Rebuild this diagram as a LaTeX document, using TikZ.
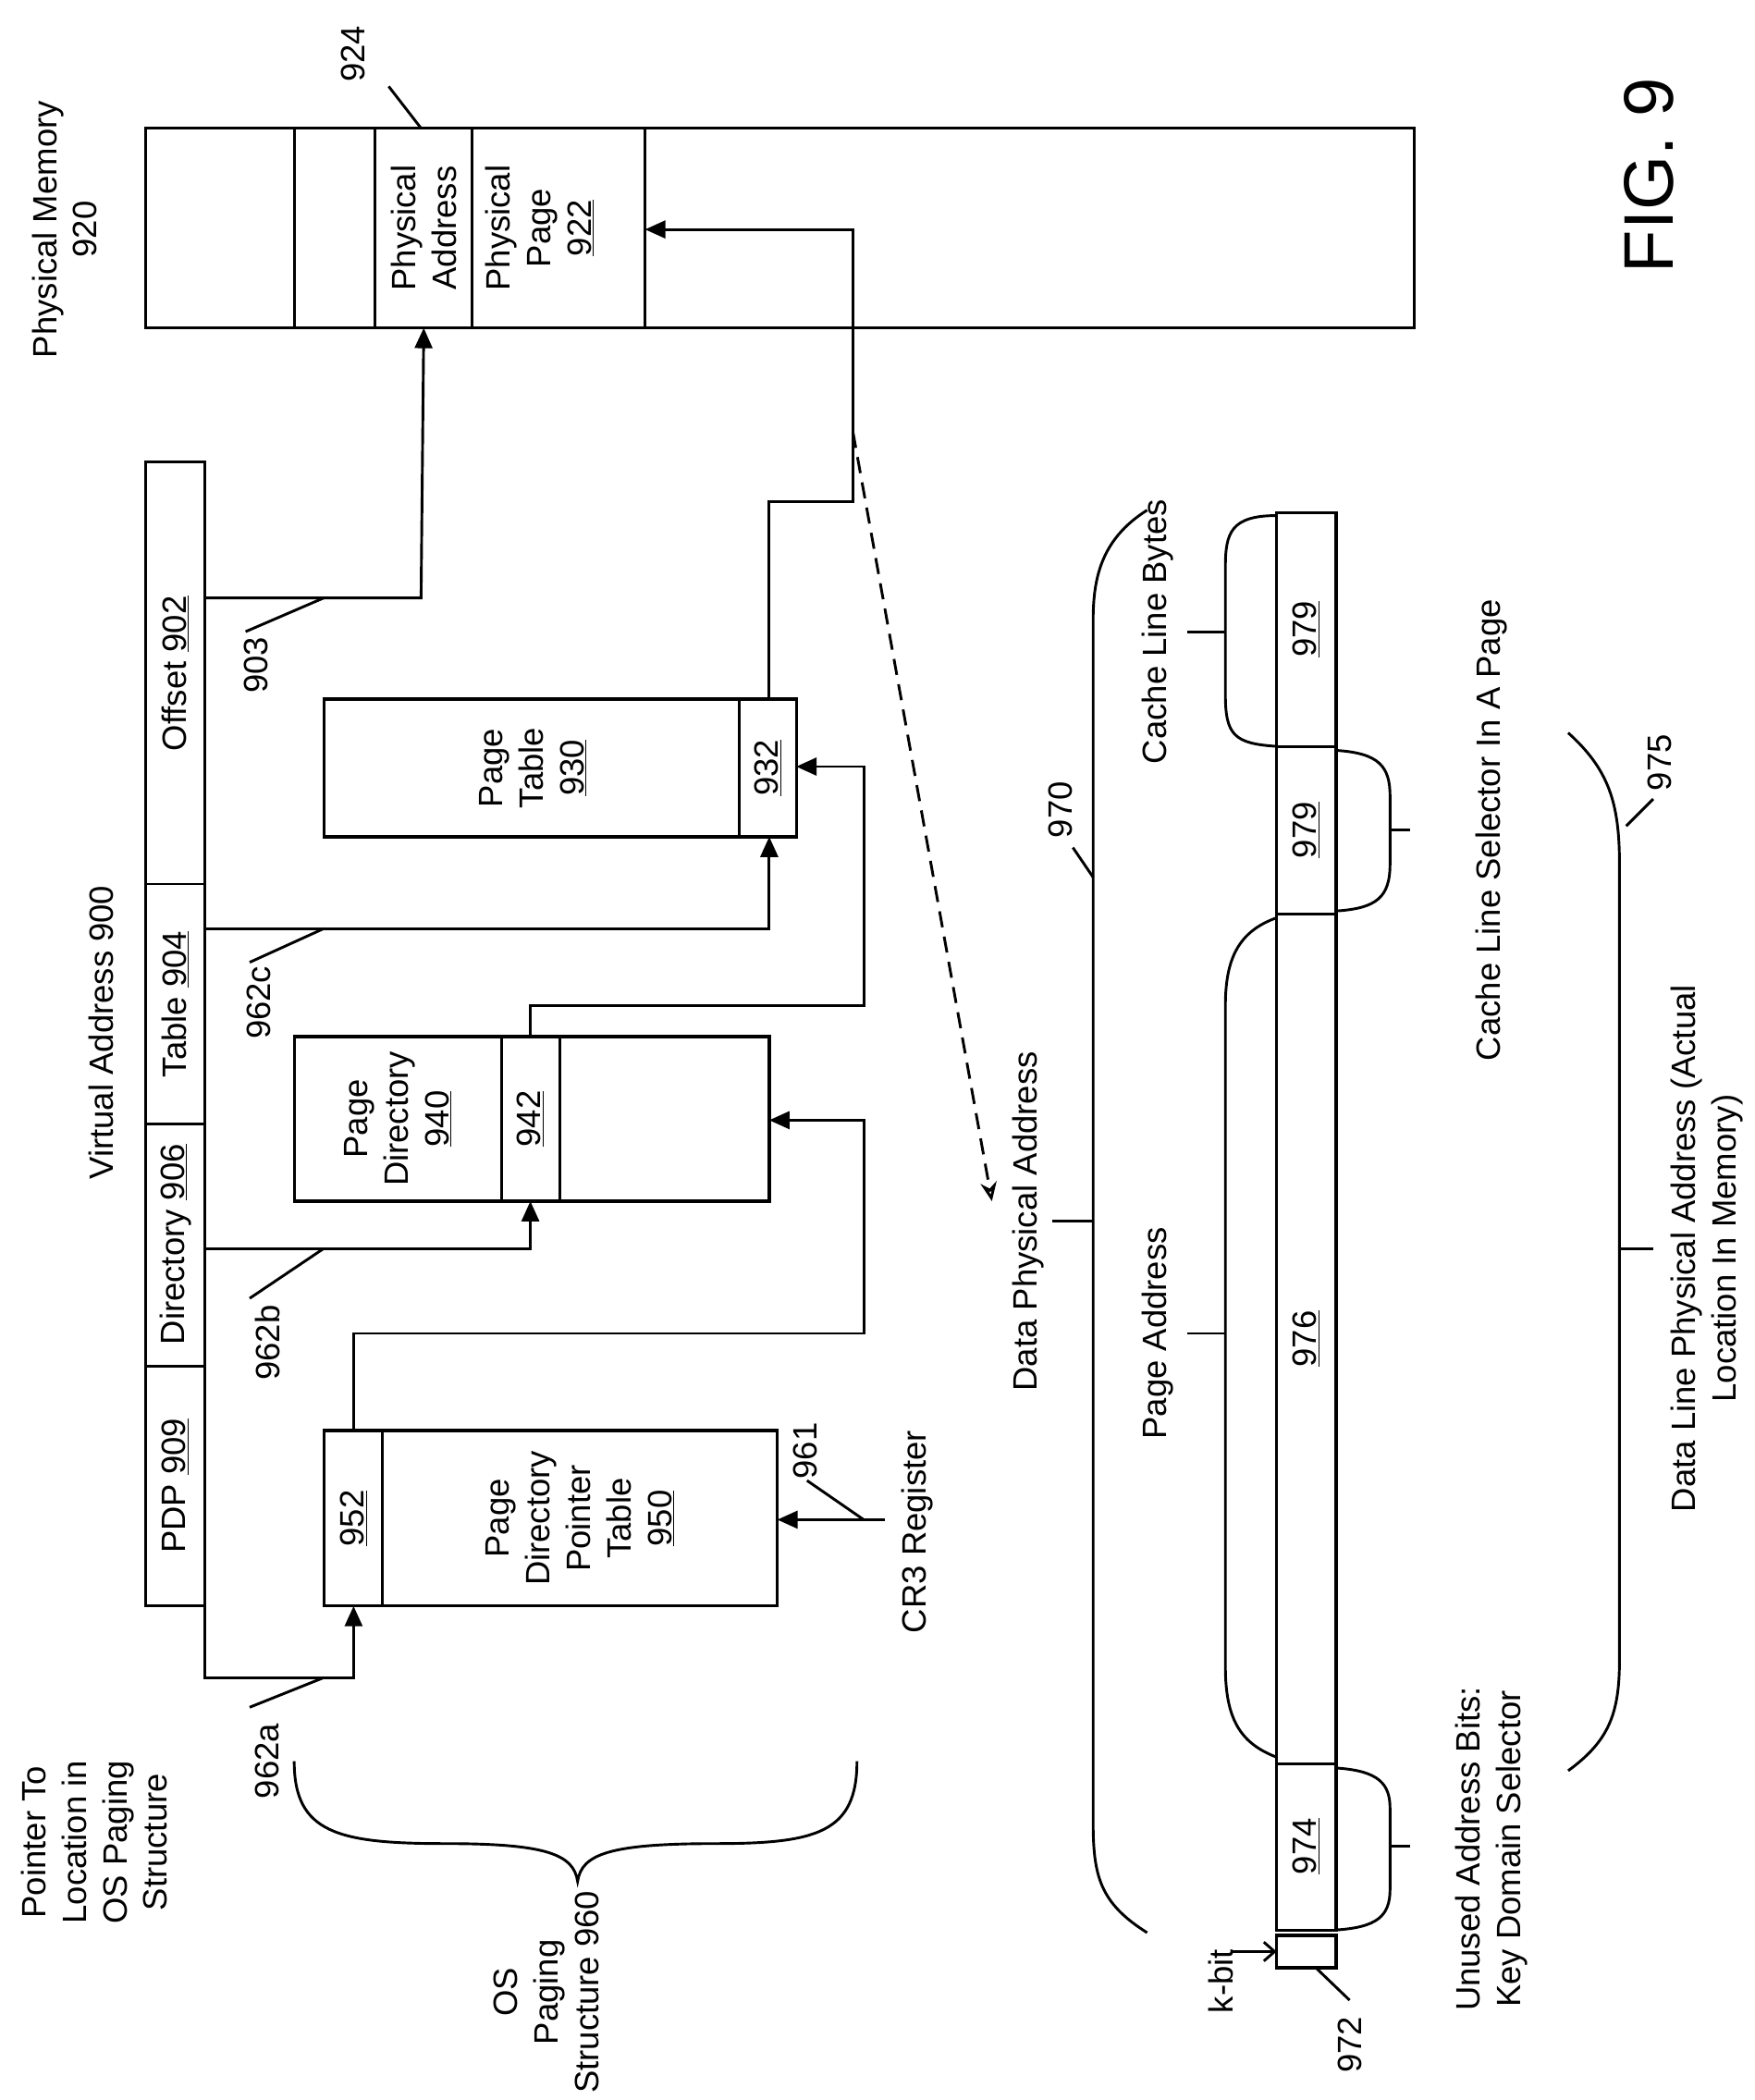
\documentclass[tikz,border=0pt]{standalone}
\usepackage{fontspec}
\setmainfont{Liberation Sans}
\usetikzlibrary{arrows.meta,positioning}

\tikzset{
  box/.style={draw,line width=2.2pt,inner sep=0pt,outer sep=0pt},
  lbl/.style={rotate=90,align=center,font=\fontsize{25}{30}\selectfont,inner sep=0pt},
  wire/.style={line width=2pt},
  arr/.style={wire,-{Triangle[length=15pt,width=13pt]}},
  brc/.style={line width=2pt}
}

\begin{document}
\begin{tikzpicture}[x=1pt,y=-1pt]
  \useasboundingbox (0,0) rectangle (1300,1556);

  % physical memory
  \node[box,minimum width=940pt,minimum height=148pt] (pm) at (578,169) {};
  \draw[wire] (218,95) -- (218,243) (278,95) -- (278,243)
              (350,95) -- (350,243) (478,95) -- (478,243);
  \node[lbl] (pa) at (314,169) {Physical\\Address};
  \node[lbl] (pp) at (400,169) {Physical\\Page\\\underline{922}};
  \node[lbl] (pmlbl) at (48,170) {Physical Memory\\920};
  \node[lbl] (l924) at (262,40) {924};
  \draw[wire] (288,64) -- (312,95);

  % virtual address
  \node[box,minimum width=44pt,minimum height=847pt] (va) at (130,766) {};
  \draw[wire] (108,655) -- (152,655) (108,833) -- (152,833) (108,1012) -- (152,1012);
  \node[lbl] at (130,499) {Offset \underline{902}};
  \node[lbl] at (130,744) {Table \underline{904}};
  \node[lbl] at (130,922) {Directory \underline{906}};
  \node[lbl] at (130,1101) {PDP \underline{909}};
  \node[lbl] (valbl) at (75,765) {Virtual Address 900};
  \node[lbl] (ptr) at (70,1365) {Pointer To\\Location in\\OS Paging\\Structure};

  % page table
  \node[box,minimum width=350pt,minimum height=102pt] (pt) at (415,569) {};
  \draw[wire] (548,518) -- (548,620);
  \node[lbl] at (395,569) {Page\\Table\\\underline{930}};
  \node[lbl] (c932) at (569,569) {\underline{932}};

  % page directory
  \node[box,minimum width=352pt,minimum height=122pt] (pd) at (394,829) {};
  \draw[wire] (372,768) -- (372,890) (415,768) -- (415,890);
  \node[lbl] at (295,829) {Page\\Directory\\\underline{940}};
  \node[lbl] (c942) at (393,829) {\underline{942}};

  % page directory pointer table
  \node[box,minimum width=336pt,minimum height=130pt] (pdpt) at (408,1125) {};
  \draw[wire] (283,1060) -- (283,1190);
  \node[lbl] (c952) at (262,1125) {\underline{952}};
  \node[lbl] at (430,1125) {Page\\Directory\\Pointer\\Table\\\underline{950}};

  % address walk
  \coordinate (e903) at (152,443);
  \draw[arr] (e903) -- (312,443) -- (pm.south -| pa);
  \draw[arr] (152,688) -- (570,688) -- (570,620);
  \draw[arr] (152,925) -- (393,925) -- (393,890);
  \draw[arr] (152,1190) -- (152,1243) -- (262,1243) -- (262,1190);
  \draw[arr] (262,1060) -- (262,988) -- (640,988) -- (640,830) -- (570,830);
  \draw[arr] (393,768) -- (393,745) -- (640,745) -- (640,568) -- (590,568);
  \draw[arr] (570,518) -- (570,372) -- (632,372) -- (632,170) -- (478,170);
  \coordinate (dsrc) at (632,320);
  \draw[wire,dashed,dash pattern=on 12pt off 7pt,-{Stealth[open,length=14pt,width=12pt]}] (dsrc) -- (735,890);

  % leaders
  \node[lbl] at (190,493) {903};
  \draw[wire] (182,468) -- (240,443);
  \node[lbl] at (192,743) {962c};
  \draw[wire] (185,713) -- (240,688);
  \node[lbl] at (198,995) {962b};
  \draw[wire] (185,962) -- (240,925);
  \node[lbl] at (198,1305) {962a};
  \draw[wire] (185,1265) -- (240,1243);

  % CR3
  \coordinate (cr3) at (656,1126);
  \draw[arr] (cr3) -- (576,1126);
  \draw[wire] (598,1097) -- (640,1126);
  \node[lbl] at (597,1075) {961};
  \node[lbl] at (680,1135) {CR3 Register};

  % OS paging brace
  \draw[brc] (218,1305) .. controls (218,1358) and (250,1366) .. (330,1366)
    .. controls (405,1366) and (425,1374) .. (428,1394)
    .. controls (431,1374) and (451,1366) .. (530,1366)
    .. controls (605,1366) and (635,1358) .. (635,1305);
  \node[lbl] at (405,1476) {OS\\Paging\\Structure 960};

  % data physical address bar
  \node[box,minimum width=44pt,minimum height=1050pt] (dpa) at (968,905) {};
  \draw[wire] (946,553) -- (990,553) (946,677) -- (990,677) (946,1307) -- (990,1307);
  \node[box,minimum width=44pt,minimum height=24pt] (kbit) at (968,1446) {};
  \node[lbl] at (968,466) {\underline{979}};
  \node[lbl] at (968,615) {\underline{979}};
  \node[lbl] at (968,992) {\underline{976}};
  \node[lbl] at (968,1368) {\underline{974}};

  \node[lbl] (kl) at (905,1468) {k-bit};
  \draw[wire,-{Straight Barb[length=8pt,width=14pt]}] (912,1446) -- (kbit.west);
  \node[lbl] at (1000,1515) {972};
  \draw[wire] (975,1458) -- (1000,1482);

  % braces
  \draw[brc] (850,378) .. controls (815,400) and (810,430) .. (810,460) -- (810,1350)
    .. controls (810,1390) and (815,1410) .. (850,1432);
  \draw[brc] (810,905) -- (780,905);
  \node[lbl] at (762,905) {Data Physical Address};
  \node[lbl] at (786,600) {970};
  \draw[brc] (810,650) -- (795,628);

  \draw[brc] (946,382) .. controls (912,382) and (908,395) .. (908,420) -- (908,515)
    .. controls (908,545) and (915,551) .. (946,553);
  \draw[brc] (908,468) -- (880,468);
  \node[lbl] at (858,468) {Cache Line Bytes};

  \draw[brc] (946,680) .. controls (918,690) and (908,710) .. (908,745) -- (908,1235)
    .. controls (908,1275) and (920,1292) .. (946,1302);
  \draw[brc] (908,988) -- (880,988);
  \node[lbl] at (858,988) {Page Address};

  \draw[brc] (990,556) .. controls (1022,558) and (1030,568) .. (1030,590) -- (1030,640)
    .. controls (1030,665) and (1020,673) .. (990,675);
  \draw[brc] (1030,615) -- (1045,615);
  \node[lbl] at (1105,615) {Cache Line Selector In A Page};

  \draw[brc] (990,1310) .. controls (1022,1312) and (1030,1322) .. (1030,1340) -- (1030,1400)
    .. controls (1030,1420) and (1020,1428) .. (990,1430);
  \draw[brc] (1030,1368) -- (1045,1368);
  \node[lbl] at (1105,1370) {Unused Address Bits:\\Key Domain Selector};

  \draw[brc] (1162,543) .. controls (1192,570) and (1200,595) .. (1200,640) -- (1200,1230)
    .. controls (1200,1270) and (1192,1290) .. (1162,1312);
  \draw[brc] (1200,925) -- (1225,925);
  \node[lbl] at (1265,925) {Data Line Physical Address (Actual\\Location In Memory)};
  \node[lbl] at (1230,565) {975};
  \draw[brc] (1205,612) -- (1225,592);

  \node[rotate=90,font=\fontsize{52}{60}\selectfont,inner sep=0pt] (fig) at (1222,130) {FIG. 9};
\end{tikzpicture}
\end{document}
